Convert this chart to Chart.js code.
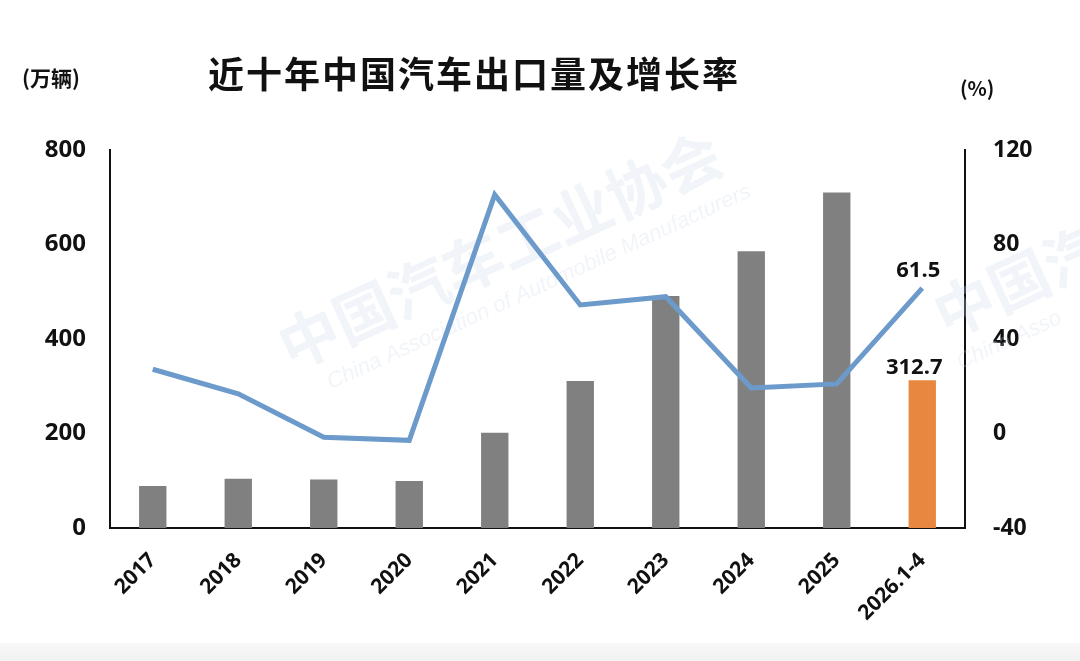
<!DOCTYPE html>
<html>
<head>
<meta charset="utf-8">
<script src="https://cdn.jsdelivr.net/npm/chart.js@4/dist/chart.umd.min.js"></script>
<style>
  html, body { margin: 0; padding: 0; background: #fff; }
  #wrap { position: relative; width: 1080px; height: 661px; overflow: hidden; }
  #band { position: absolute; left: 0; right: 0; bottom: 0; height: 18px; background: linear-gradient(#f7f7f7, #f2f2f2); }
  .txt { position: absolute; color: #111; font-family: "Noto Sans CJK SC", "Noto Sans", sans-serif; font-weight: 700; white-space: nowrap; }
  #title { left: 208px; top: 46px; font-size: 36px; letter-spacing: 2px; }
  #unitL { left: 22px; top: 62px; font-size: 21px; }
  #unitR { left: 960px; top: 73px; font-size: 20px; }
</style>
</head>
<body>
<div id="wrap">
  <canvas id="c" width="1080" height="661"></canvas>
  <div id="band"></div>
  <div class="txt" id="title">近十年中国汽车出口量及增长率</div>
  <div class="txt" id="unitL">(万辆)</div>
  <div class="txt" id="unitR">(%)</div>
</div>
<script>
const YEARS   = ["2017", "2018", "2019", "2020", "2021", "2022", "2023", "2024", "2025", "2026.1-4"];
const EXPORTS = [89.1, 104.1, 102.4, 99.5, 201.5, 311.1, 491.0, 585.9, 710.0, 312.7];   // 万辆
const GROWTH  = [27.2, 16.8, -1.6, -2.9, 101.1, 54.4, 57.9, 19.3, 21.0, 61.5];         // %

const GRAY   = "#808080";
const ORANGE = "#e8873f";
const BLUE   = "#6b9acb";
const NUM_FONT = "'Open Sans', 'DejaVu Sans', sans-serif";

const barColors = YEARS.map((y, i) => i === YEARS.length - 1 ? ORANGE : GRAY);

// faint association watermark behind the chart
const watermark = {
  id: "watermark",
  beforeDatasetsDraw(chart) {
    const ctx = chart.ctx;
    ctx.save();
    ctx.fillStyle = "rgba(205,216,232,0.28)";
    ctx.translate(500, 250);
    ctx.rotate(-0.43);
    ctx.font = "bold 60px 'Noto Sans CJK SC'";
    ctx.textAlign = "center";
    ctx.textBaseline = "middle";
    ctx.fillText("中国汽车工业协会", 0, 0);
    ctx.font = "italic 22px 'Liberation Sans'";
    ctx.fillText("China Association of Automobile Manufacturers", 20, 50);
    ctx.restore();

    ctx.save();
    ctx.fillStyle = "rgba(205,216,232,0.28)";
    ctx.translate(1010, 285);
    ctx.rotate(-0.43);
    ctx.font = "bold 60px 'Noto Sans CJK SC'";
    ctx.textAlign = "left";
    ctx.textBaseline = "middle";
    ctx.fillText("中国汽", -80, 0);
    ctx.font = "italic 22px 'Liberation Sans'";
    ctx.fillText("China Asso", -80, 50);
    ctx.restore();
  }
};

// value labels on the last period only
const lastLabels = {
  id: "lastLabels",
  afterDatasetsDraw(chart) {
    const ctx = chart.ctx;
    const n = YEARS.length - 1;
    const bar = chart.getDatasetMeta(0).data[n];
    const pt  = chart.getDatasetMeta(1).data[n];
    ctx.save();
    ctx.fillStyle = "#111";
    ctx.font = "bold 22px " + NUM_FONT;
    ctx.textAlign = "center";
    ctx.textBaseline = "bottom";
    ctx.fillText(GROWTH[n].toFixed(1), pt.x - 4, pt.y - 6);
    ctx.fillText(EXPORTS[n].toFixed(1), bar.x - 8, bar.y - 2);
    ctx.restore();
  }
};

new Chart(document.getElementById("c"), {
  type: "bar",
  data: {
    labels: YEARS,
    datasets: [
      {
        label: "出口量",
        data: EXPORTS,
        backgroundColor: barColors,
        barPercentage: 0.32,
        categoryPercentage: 1,
        yAxisID: "y",
        order: 2
      },
      {
        type: "line",
        label: "增长率",
        data: GROWTH,
        borderColor: BLUE,
        borderWidth: 5,
        pointRadius: 0,
        tension: 0,
        fill: false,
        yAxisID: "y1",
        order: 1
      }
    ]
  },
  options: {
    responsive: false,
    animation: false,
    layout: { padding: { top: 150, left: 0, right: 0, bottom: 0 } },
    plugins: { legend: { display: false }, tooltip: { enabled: false } },
    scales: {
      x: {
        grid: { display: false, drawTicks: false },
        border: { display: true, color: "#111", width: 2 },
        ticks: {
          color: "#111",
          font: { family: NUM_FONT, size: 21, weight: "bold" },
          maxRotation: 45, minRotation: 45,
          padding: 20,
          autoSkip: false
        },
        afterFit(s) { s.height = 133; }
      },
      y: {
        position: "left",
        min: 0, max: 800,
        grid: { display: false, drawTicks: false },
        border: { display: true, color: "#111", width: 2 },
        ticks: {
          stepSize: 200,
          color: "#111",
          font: { family: NUM_FONT, size: 24, weight: "bold" },
          padding: 24
        },
        afterFit(s) { s.width = 110; }
      },
      y1: {
        position: "right",
        min: -40, max: 120,
        grid: { display: false, drawTicks: false },
        border: { display: true, color: "#111", width: 2 },
        ticks: {
          stepSize: 40,
          color: "#111",
          font: { family: NUM_FONT, size: 23, weight: "bold" },
          padding: 28
        },
        afterFit(s) { s.width = 115; }
      }
    }
  },
  plugins: [watermark, lastLabels]
});
</script>
</body>
</html>
